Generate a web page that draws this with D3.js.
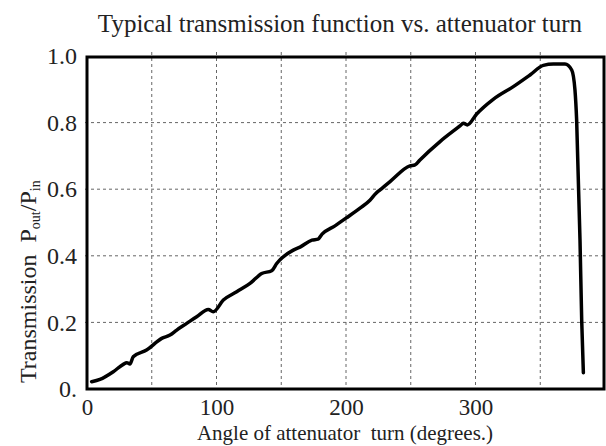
<!DOCTYPE html>
<html>
<head>
<meta charset="utf-8">
<script src="https://cdn.jsdelivr.net/npm/d3@7"></script>
<style>
  body { margin: 0; background: #fff; }
  svg text { font-family: "Liberation Serif", "Times New Roman", serif; fill: #222; }
</style>
</head>
<body>
<div id="chart"></div>
<script>
var w = 606, h = 446;

// angle of attenuator turn (degrees)
var angleDeg = [3.6, 10, 20.3, 28, 30.7, 33.2, 35.7, 46, 57.7, 64.1, 69.3, 77, 84.7, 93.7, 97.5,
                105.3, 115.6, 125.9, 134.9, 142.6, 146.5, 159.3, 164.5, 173.7, 178.4, 181.5,
                191.5, 200, 210.8, 218.5, 223.2, 226.3, 234, 249.4, 253.3, 257.1, 272.6, 288,
                290.6, 293.7, 300.9, 313.7, 329.2, 342.1, 352.4, 360.1, 369.1, 374.3, 376.8,
                378.1, 380.7, 382, 383.3];
// transmission Pout/Pin
var transmission = [0.022, 0.029, 0.052, 0.074, 0.079, 0.075, 0.097, 0.117, 0.152, 0.162, 0.177,
                    0.197, 0.217, 0.239, 0.232, 0.267, 0.292, 0.317, 0.347, 0.355, 0.377, 0.417,
                    0.426, 0.447, 0.45, 0.465, 0.49, 0.513, 0.543, 0.567, 0.588, 0.598, 0.623,
                    0.670, 0.673, 0.688, 0.743, 0.790, 0.798, 0.793, 0.826, 0.870, 0.908, 0.943,
                    0.972, 0.976, 0.976, 0.958, 0.898, 0.808, 0.447, 0.207, 0.049];

var xTicks = [0, 100, 200, 300];
var yTicks = [0, 0.2, 0.4, 0.6, 0.8, 1.0];
var xGrid = [50, 100, 150, 200, 250, 300, 350];
var yGrid = [0.2, 0.4, 0.6, 0.8];

var serif = "'Liberation Serif', 'Times New Roman', serif";

var svg = d3.select("#chart")
  .append("svg")
  .attr("width", w)
  .attr("height", h);

var xScale = d3.scaleLinear().domain([0, 400]).range([87, 605]);
var yScale = d3.scaleLinear().domain([0, 1]).range([389, 56]);

// grid
svg.selectAll("line.vgrid")
  .data(xGrid)
  .enter()
  .append("line")
  .attr("class", "vgrid")
  .attr("x1", function(d) { return xScale(d); })
  .attr("x2", function(d) { return xScale(d); })
  .attr("y1", yScale(1) - 4)
  .attr("y2", yScale(0))
  .attr("stroke", "#666")
  .attr("stroke-width", 1)
  .attr("stroke-dasharray", "3,3");

svg.selectAll("line.hgrid")
  .data(yGrid)
  .enter()
  .append("line")
  .attr("class", "hgrid")
  .attr("x1", xScale(0) - 2)
  .attr("x2", xScale(400))
  .attr("y1", function(d) { return yScale(d); })
  .attr("y2", function(d) { return yScale(d); })
  .attr("stroke", "#666")
  .attr("stroke-width", 1)
  .attr("stroke-dasharray", "3,3");

// frame
svg.append("rect")
  .attr("x", xScale(0))
  .attr("y", yScale(1) + 1)
  .attr("width", xScale(400) - xScale(0) - 1)
  .attr("height", yScale(0) - yScale(1) - 1)
  .attr("fill", "none")
  .attr("stroke", "#000")
  .attr("stroke-width", 3);

// curve
var pts = angleDeg.map(function(d, i) { return [d, transmission[i]]; });
var line = d3.line()
  .x(function(d) { return xScale(d[0]); })
  .y(function(d) { return yScale(d[1]); })
  .curve(d3.curveMonotoneX);

svg.append("path")
  .datum(pts)
  .attr("d", line)
  .attr("fill", "none")
  .attr("stroke", "#000")
  .attr("stroke-width", 3.5)
  .attr("stroke-linejoin", "round")
  .attr("stroke-linecap", "round");

// axes
var xAxis = svg.append("g")
  .attr("transform", "translate(0," + yScale(0) + ")")
  .call(d3.axisBottom(xScale).tickValues(xTicks).tickSize(0).tickPadding(10));
xAxis.select(".domain").remove();
xAxis.selectAll("text")
  .style("font-family", serif)
  .style("font-size", "23px")
  .style("fill", "#222");

var yAxis = svg.append("g")
  .attr("transform", "translate(" + xScale(0) + ",0)")
  .call(d3.axisLeft(yScale).tickValues(yTicks).tickSize(0).tickPadding(10)
    .tickFormat(function(d) { return d === 0 ? "0." : d3.format(".1f")(d); }));
yAxis.select(".domain").remove();
yAxis.selectAll("text")
  .style("font-family", serif)
  .style("font-size", "24px")
  .style("fill", "#222");

// title and labels
svg.append("text")
  .attr("x", 340)
  .attr("y", 32)
  .attr("text-anchor", "middle")
  .attr("font-size", "25px")
  .text("Typical transmission function vs. attenuator turn");

svg.append("text")
  .attr("x", 345)
  .attr("y", 440)
  .attr("text-anchor", "middle")
  .attr("font-size", "21px")
  .style("white-space", "pre")
  .text("Angle of attenuator  turn (degrees.)");

var yl = svg.append("text")
  .attr("transform", "translate(36,383) rotate(-90)")
  .attr("font-size", "24px")
  .style("white-space", "pre");
yl.append("tspan").text("Transmission  P");
yl.append("tspan").attr("font-size", "14px").attr("dy", 4).text("out");
yl.append("tspan").attr("dy", -4).text("/P");
yl.append("tspan").attr("font-size", "14px").attr("dy", 4).text("in");
</script>
</body>
</html>
